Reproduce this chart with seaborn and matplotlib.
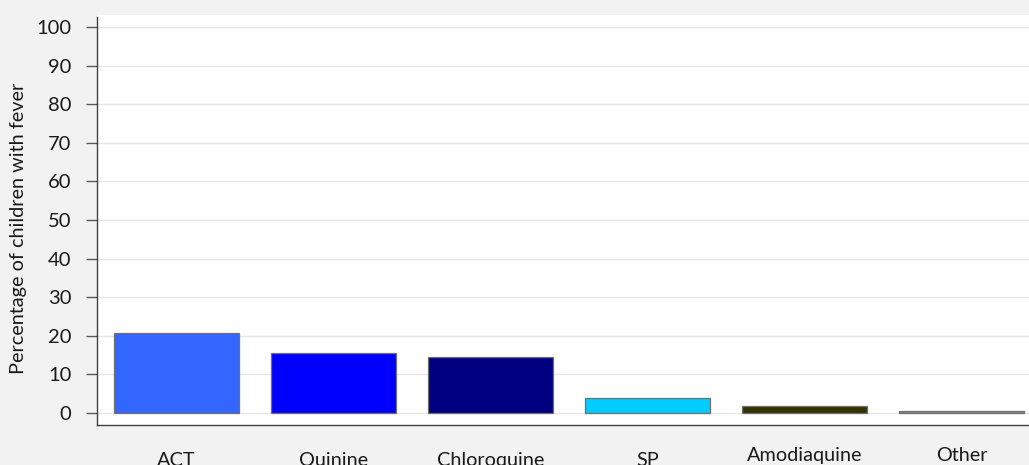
import matplotlib
matplotlib.use("Agg")
import matplotlib.pyplot as plt
import matplotlib.transforms as mtransforms
import seaborn as sns
import pandas as pd

# Antimalarial drugs received by children with fever
drugs = ["ACT", "Quinine", "Chloroquine", "SP", "Amodiaquine", "Other"]
percent = [20.7, 15.5, 14.5, 3.9, 1.8, 0.5]
bar_colors = ["#3366FF", "#0000FF", "#000080", "#00CCFF", "#333300", "#7F8C99"]
y_ticks = [0, 10, 20, 30, 40, 50, 60, 70, 80, 90, 100]
# baseline offsets (axes fraction) of the category captions
label_y = [-0.10, -0.10, -0.10, -0.10, -0.088, -0.088]

df = pd.DataFrame({"drug": drugs, "percent": percent})

sns.set_style("white")
plt.rcParams["font.family"] = ["Lato", "DejaVu Sans"]

fig = plt.figure(figsize=(10.29, 4.65), dpi=100, facecolor="#F2F2F2")
ax = fig.add_axes([0.0943, 0.086, 0.9057, 0.8817])
ax.set_facecolor("white")

sns.barplot(data=df, x="drug", y="percent", hue="drug", palette=bar_colors,
            saturation=1, width=0.8, edgecolor="#707070", linewidth=0.9,
            legend=False, ax=ax, zorder=3)

ax.set_xlim(-0.506, 5.43)
ax.set_ylim(-3.1, 103.1)
ax.set_yticks(y_ticks)
ax.set_yticklabels([str(t) for t in y_ticks], fontsize=14.5, color="#1a1a1a")
ax.yaxis.grid(True, color="#E6E6E6", linewidth=1.0, zorder=0)
ax.xaxis.grid(False)
ax.tick_params(axis="y", which="major", left=True, length=8, width=1.0,
               color="#595959", pad=10.5)
ax.tick_params(axis="x", bottom=False, labelbottom=False)

for side in ["top", "right"]:
    ax.spines[side].set_visible(False)
for side in ["left", "bottom"]:
    ax.spines[side].set_color("#404040")
    ax.spines[side].set_linewidth(1.0)
ax.spines["left"].set_bounds(-3.1, 102.5)

ax.set_xlabel("")
ax.set_ylabel("Percentage of children with fever", fontsize=14.3, color="#1a1a1a",
              va="center")
ax.yaxis.set_label_coords(-0.0848, 0.479)

trans = mtransforms.blended_transform_factory(ax.transData, ax.transAxes)
for i, (name, yy) in enumerate(zip(drugs, label_y)):
    ax.text(i, yy, name, transform=trans, ha="center", va="baseline",
            fontsize=14.3, color="#1a1a1a", clip_on=False)

fig.savefig("out.png", dpi=100, facecolor=fig.get_facecolor())
